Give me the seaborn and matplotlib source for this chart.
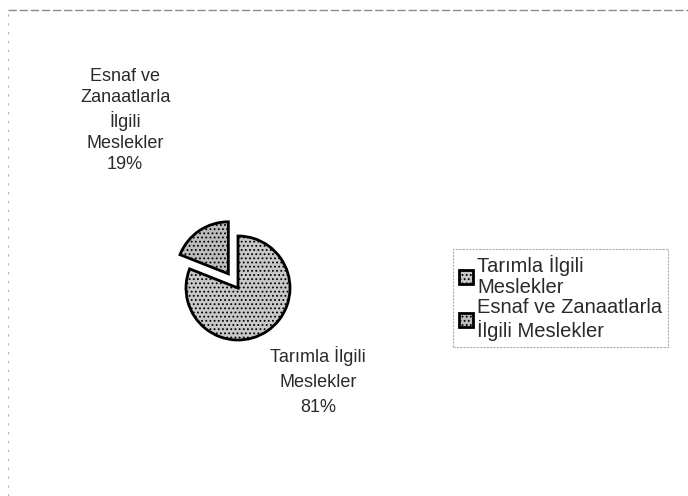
import matplotlib
matplotlib.use("Agg")
import matplotlib.pyplot as plt
import matplotlib.lines as mlines
import seaborn as sns

# data
categories = ["Tarımla İlgili Meslekler", "Esnaf ve Zanaatlarla İlgili Meslekler"]
shares = [81, 19]
pie_labels = ["Tarımla İlgili\nMeslekler", "Esnaf ve\nZanaatlarla\nİlgili\nMeslekler"]
legend_labels = ["Tarımla İlgili\nMeslekler", "Esnaf ve Zanaatlarla\nİlgili Meslekler"]

sns.set_theme(style="white")
plt.rcParams['font.family'] = ['Liberation Sans', 'DejaVu Sans']
plt.rcParams['hatch.color'] = '#7a7a7a'
plt.rcParams['hatch.linewidth'] = 0.8

fill_colors = sns.color_palette(["#c8c8c8", "#bcbcbc"])
hatches = ["....", "...."]

W, H = 688, 496
fig = plt.figure(figsize=(W / 100, H / 100), dpi=100)

# pie axes: 1 data unit = 52 px, centre at (238, 288) px
unit = 52
cx, cy = 238, 288
ax = fig.add_axes([(cx - 4 * unit) / W, (H - cy - 4 * unit) / H, 8 * unit / W, 8 * unit / H])

wedges, _ = ax.pie(shares, explode=[0, 0.33], startangle=90, counterclock=False,
                   colors=fill_colors,
                   wedgeprops=dict(edgecolor="black", linewidth=2))
for w, h in zip(wedges, hatches):
    w.set_hatch(h)
ax.set_xlim(-4, 4)
ax.set_ylim(-4, 4)
ax.set_aspect("equal")
ax.axis("off")

# data labels (position in pie units, line spacing)
label_pos = [(1.54, -1.79, 1.6), (-2.17, 3.22, 1.3)]
for (x, y, ls), lab, v in zip(label_pos, pie_labels, shares):
    ax.text(x, y, f"{lab}\n{v}%", ha="center", va="center", fontsize=13,
            linespacing=ls, color="#2a2a2a", clip_on=False)

# legend
leg = fig.legend(wedges, legend_labels, loc="upper left",
                 bbox_to_anchor=(453 / W, 1 - 249 / H), fontsize=14.5,
                 frameon=True, fancybox=False, edgecolor="#9a9a9a",
                 handlelength=0.7, handleheight=0.7, handletextpad=0.2,
                 labelspacing=0.05, borderpad=0.3, borderaxespad=0)
leg.get_frame().set_linestyle((0, (2, 1)))
leg.get_frame().set_linewidth(0.8)
for t in leg.get_texts():
    t.set_linespacing(1.15)
    t.set_color("#2a2a2a")

# chart area outline (top and left edges visible)
fig.add_artist(mlines.Line2D([8 / W, 1], [1 - 10 / H, 1 - 10 / H], color="#8a8a8a",
                             linewidth=1, linestyle=(0, (6, 2))))
fig.add_artist(mlines.Line2D([8 / W, 8 / W], [0, 1 - 10 / H], color="#b0b0b0",
                             linewidth=0.8, linestyle=(0, (2, 6))))

fig.savefig("out.png", dpi=100)
